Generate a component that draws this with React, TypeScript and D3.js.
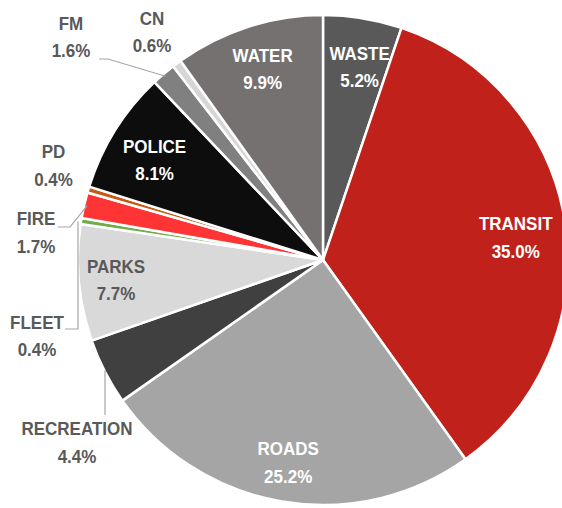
import React from "react";
import * as d3 from "d3";

const categories = ["WASTE", "TRANSIT", "ROADS", "RECREATION", "PARKS", "FLEET", "FIRE", "PD", "POLICE", "FM", "CN", "WATER"];
const values = [5.2, 35.0, 25.2, 4.4, 7.7, 0.4, 1.7, 0.4, 8.1, 1.6, 0.6, 9.9];
const sliceColors = ["#595959", "#C0211A", "#A5A5A5", "#404040", "#D9D9D9", "#70AD47", "#FF3535", "#C55A11", "#0D0D0D", "#808080", "#D6D6D6", "#767171"];

// inside labels: nudge from the arc centroid
const insideLayout: Record<string, { dx: number; dy: number; color: string }> = {
  WASTE: { dx: 4, dy: 5, color: "#ffffff" },
  TRANSIT: { dx: -6, dy: 7, color: "#ffffff" },
  ROADS: { dx: -1, dy: 4.5, color: "#ffffff" },
  PARKS: { dx: -7, dy: 1, color: "#595959" },
  POLICE: { dx: 2, dy: 6, color: "#ffffff" },
  WATER: { dx: 1, dy: 0, color: "#ffffff" },
};

// outside labels: first-line centre, leader elbow, and whether the last segment is vertical
const outsideLayout: Record<string, { x: number; y: number; leader?: [number, number][]; vertical?: boolean }> = {
  FM: { x: 71, y: 23, leader: [[99, 59], [108, 59]] },
  CN: { x: 152, y: 18 },
  PD: { x: 53.5, y: 151.5 },
  FIRE: { x: 36, y: 218.5, leader: [[58, 227], [70, 227]] },
  FLEET: { x: 37, y: 322, leader: [[65, 329], [78, 329]], vertical: true },
  RECREATION: { x: 77, y: 428.5, leader: [[105, 415]], vertical: true },
};

const W = 562;
const H = 508;
const CX = 323;
const CY = 260;
const R = 245;
const LINE = 27.5;
const YS = 1.09;

export default function App() {
  const pie = d3.pie<number>().sort(null).value((d) => d)(values);
  const arc = d3.arc<d3.PieArcDatum<number>>().innerRadius(0).outerRadius(R);
  const labelArc = d3.arc<d3.PieArcDatum<number>>().innerRadius(R * 0.82).outerRadius(R * 0.82);
  const edgeArc = d3.arc<d3.PieArcDatum<number>>().innerRadius(R - 3).outerRadius(R - 3);
  const font = "'Liberation Sans', Arial, sans-serif";

  return (
    <svg width={W} height={H} style={{ position: "absolute", left: 0, top: 0, background: "#fff" }}>
      <g transform={`translate(${CX},${CY})`}>
        {pie.map((p, i) => (
          <path key={categories[i]} d={arc(p) || ""} fill={sliceColors[i]} stroke="#fff" strokeWidth={2.5} strokeLinejoin="round" />
        ))}
      </g>
      {pie.map((p, i) => {
        const name = categories[i];
        const lay = outsideLayout[name];
        if (!lay || !lay.leader) return null;
        const [ex, ey] = edgeArc.centroid(p);
        const last = lay.leader[lay.leader.length - 1];
        const end: [number, number] = lay.vertical ? [last[0], ey + CY] : [ex + CX, ey + CY];
        const pts = [...lay.leader, end];
        return (
          <polyline key={"l" + name} points={pts.map((q) => q.join(",")).join(" ")} fill="none" stroke="#A6A6A6" strokeWidth={1.2} />
        );
      })}
      {pie.map((p, i) => {
        const name = categories[i];
        const pct = values[i].toFixed(1) + "%";
        let x: number, y: number, color: string;
        const ins = insideLayout[name];
        if (ins) {
          const [lx, ly] = labelArc.centroid(p);
          x = lx + CX + ins.dx;
          y = ly + CY + ins.dy - LINE / 2;
          color = ins.color;
        } else {
          const lay = outsideLayout[name];
          x = lay.x;
          y = lay.y;
          color = "#595959";
        }
        return (
          <text key={"t" + name} transform={`translate(${x},${y}) scale(1,${YS})`} textAnchor="middle" fill={color} fontFamily={font} fontWeight="bold" fontSize={17}>
            <tspan x={0} y={0} dy="0.36em">{name}</tspan>
            <tspan x={0} y={LINE / YS} dy="0.36em">{pct}</tspan>
          </text>
        );
      })}
    </svg>
  );
}
